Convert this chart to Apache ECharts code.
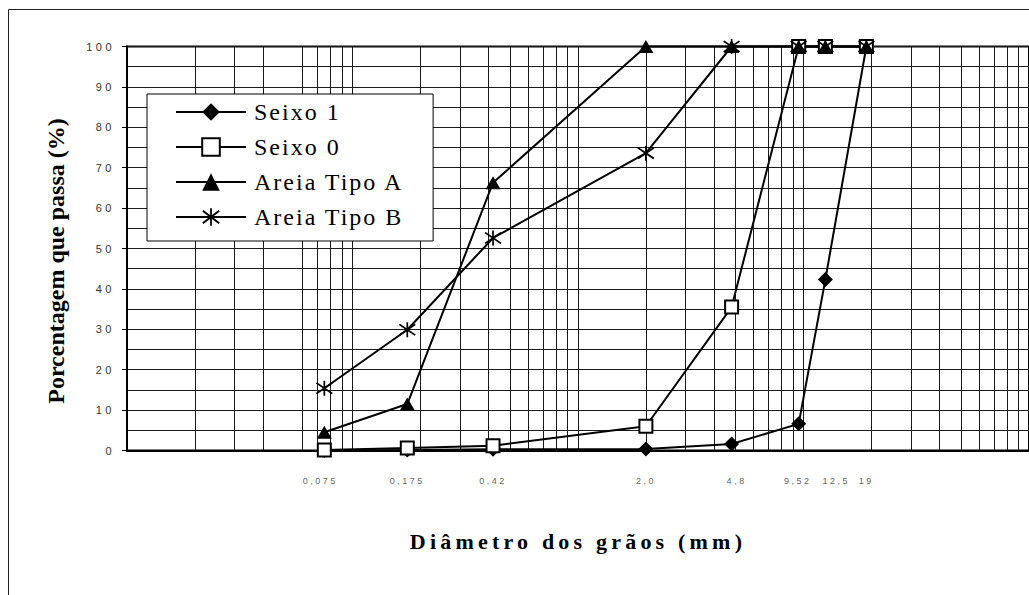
<!DOCTYPE html>
<html><head><meta charset="utf-8">
<script src="https://cdn.jsdelivr.net/npm/echarts@6/dist/echarts.min.js"></script>
<style>
html,body{margin:0;padding:0;background:#fff;}
#c{width:1029px;height:595px;}
#c text[style*="11px"]{letter-spacing:3.5px;}
#c text[style*="9px"]{letter-spacing:2.5px;}
#c text[style*="24px"]:not([style*="bold"]){letter-spacing:2px;}
#c text[style*="22px"]{letter-spacing:4.2px;}
</style></head><body><div id="c"></div>
<script>
// Sieve openings (mm) and their printed labels
const sieves = [0.075, 0.175, 0.42, 2.0, 4.8, 9.52, 12.5, 19];
const sieveLabels = ['0,075', '0,175', '0,42', '2,0', '4,8', '9,52', '12,5', '19'];
// Percentage passing for each material
const seixo1 = [0, 0.1, 0.3, 0.4, 1.6, 6.6, 42.3, 100];
const seixo0 = [0.1, 0.6, 1.2, 6.0, 35.5, 100, 100, 100];
const areiaA = [4.5, 11.5, 66.3, 100, 100, 100, 100, 100];
const areiaB = [15.4, 29.9, 52.6, 73.6, 100, 100, 100, 100];
const seriesNames = ['Seixo 1', 'Seixo 0', 'Areia Tipo A', 'Areia Tipo B'];
// Log-paper vertical grid lines (mm)
const xGridValues = [0.02,0.03,0.04,0.06,0.07,0.08,0.09,0.1,0.2,0.3,0.4,0.5,0.6,0.7,0.8,0.9,1,2,3,4,5,6,7,8,9,10,20,30,40,50,60,70,80,90];
const xTitle = 'Diâmetro dos grãos (mm)';
const yTitle = 'Porcentagem que passa (%)';

// style only: horizontal nudges (px) of some sieve labels, as printed
const labelNudge = { '0,075': -4, '4,8': 5, '9,52': -1, '12,5': 11 };

const pts = arr => sieves.map((x, i) => [x, arr[i]]);
const asterisk = 'path://M7.2 0 L8.8 0 L8.8 16 L7.2 16 Z M0 3 L1.1 1.6 L16 13 L14.9 14.4 Z M16 3 L1.1 14.4 L0 13 L14.9 1.6 Z';

const base = {
  type: 'line', clip: false, showAllSymbol: true, symbolKeepAspect: false,
  lineStyle: { color: '#000', width: 2 }, emphasis: { disabled: true }, z: 3
};

const chart = echarts.init(document.getElementById('c'), null, { renderer: 'svg' });
chart.setOption({
  animation: false,
  backgroundColor: '#fff',
  grid: { left: 127, top: 46.5, width: 913, height: 404, show: true, borderColor: '#000', borderWidth: 2, backgroundColor: 'transparent' },
  xAxis: {
    type: 'log', logBase: 10, min: 0.01, max: 100,
    axisLine: { lineStyle: { color: '#000', width: 2 } },
    axisTick: { show: false }, axisLabel: { show: false },
    splitLine: { show: false },
    name: xTitle, nameLocation: 'middle', nameGap: 80,
    nameTextStyle: { fontSize: 22, fontWeight: 'bold', fontFamily: 'Liberation Serif', color: '#000' }
  },
  yAxis: {
    type: 'value', min: 0, max: 100, interval: 10,
    axisLine: { show: true, lineStyle: { color: '#000', width: 2 } },
    axisTick: { show: true, length: 5, lineStyle: { color: '#000', width: 1 } },
    axisLabel: { fontSize: 11, fontFamily: 'Liberation Sans', color: '#333', margin: 12 },
    splitLine: { show: true, lineStyle: { color: '#1a1a1a', width: 1 } },
    minorTick: { show: false, splitNumber: 2 },
    minorSplitLine: { show: true, lineStyle: { color: '#1a1a1a', width: 1 } }
  },
  legend: {
    data: seriesNames, orient: 'vertical', left: 147, top: 94,
    padding: [6, 52, 12, 28], itemWidth: 70, itemHeight: 22, itemGap: 11,
    backgroundColor: '#fff', borderColor: '#000', borderWidth: 1,
    selectedMode: false,
    textStyle: { fontSize: 24, fontFamily: 'Liberation Serif', color: '#000', padding: [0, 0, 0, 3] }
  },
  graphic: [
    { type: 'rect', silent: true, z: 0, shape: { x: 8.5, y: 9.5, width: 1100, height: 700 },
      style: { fill: 'none', stroke: '#222', lineWidth: 1 } },
    { type: 'text', silent: true, x: 56, y: 261, rotation: Math.PI / 2,
      style: { text: yTitle, font: 'bold 24px "Liberation Serif"', fill: '#000',
               align: 'center', verticalAlign: 'middle', textAlign: 'center', textVerticalAlign: 'middle' } }
  ],
  series: [
    { type: 'line', name: 'grade', data: [], silent: true, z: 1,
      markLine: { silent: true, z: 1, symbol: ['none', 'none'], label: { show: false },
        lineStyle: { color: '#1a1a1a', width: 1, type: 'solid' }, emphasis: { disabled: true },
        data: xGridValues.map(v => ({ xAxis: v })) } },
    Object.assign({}, base, { name: seriesNames[0], data: pts(seixo1), symbol: 'diamond', symbolSize: 15,
      itemStyle: { color: '#000' } }),
    Object.assign({}, base, { name: seriesNames[1], data: pts(seixo0), symbol: 'rect', symbolSize: 13,
      itemStyle: { color: '#fff', borderColor: '#000', borderWidth: 2 } }),
    Object.assign({}, base, { name: seriesNames[2], data: pts(areiaA), symbol: 'triangle', symbolSize: [15, 13],
      itemStyle: { color: '#000' } }),
    Object.assign({}, base, { name: seriesNames[3], data: pts(areiaB), symbol: asterisk, symbolSize: [17, 15],
      itemStyle: { color: '#000' } }),
    { type: 'scatter', name: 'peneiras', silent: true, symbolSize: 0, z: 3,
      data: sieves.map((x, i) => ({ value: [x, 0], label: { offset: [labelNudge[sieveLabels[i]] || 0, 0] } })),
      label: { show: true, position: 'bottom', distance: 26, fontSize: 9, fontFamily: 'Liberation Sans', color: '#333',
        formatter: p => sieveLabels[p.dataIndex] } }
  ]
});
</script></body></html>
